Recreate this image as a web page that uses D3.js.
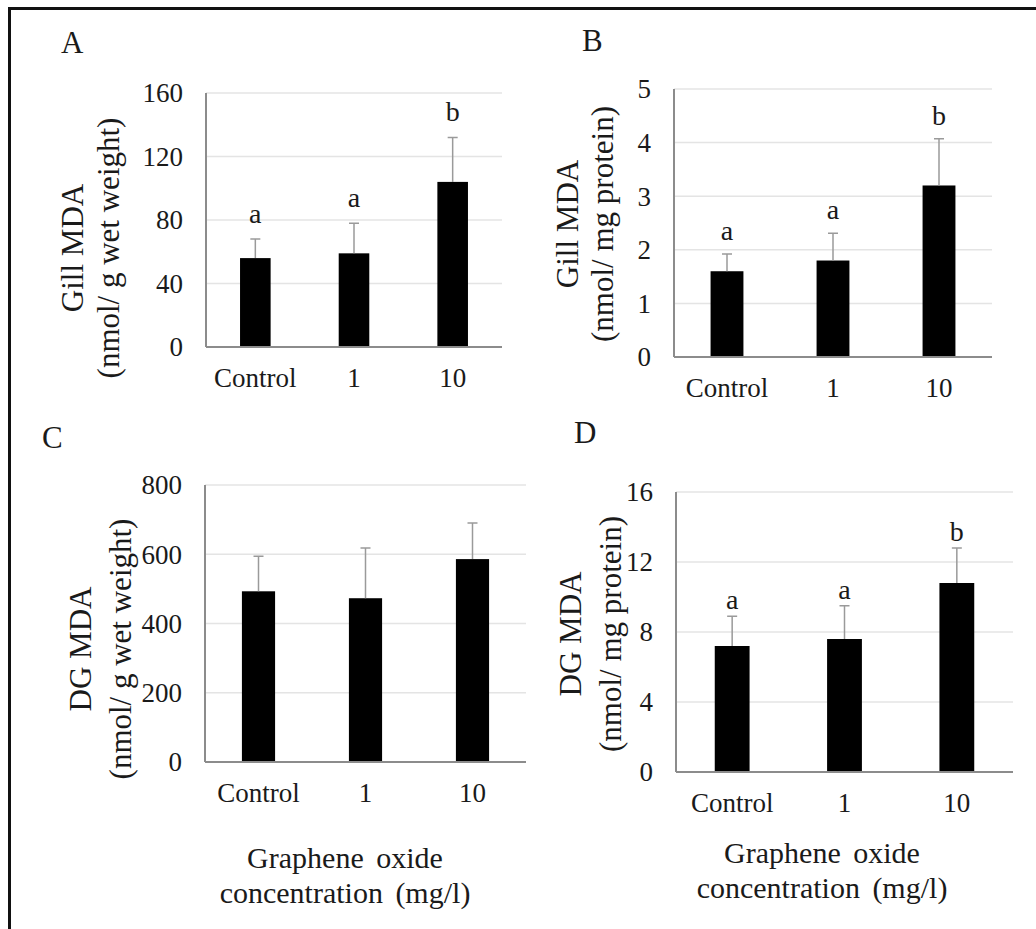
<!DOCTYPE html>
<html>
<head>
<meta charset="utf-8">
<script src="https://cdn.jsdelivr.net/npm/d3@7"></script>
<style>
  body { margin: 0; background: #fff; }
</style>
</head>
<body>
<div id="container"></div>
<script>
/* DATA */
const categories = ["Control", "1", "10"];

// A - gill MDA per g wet weight
const gillWetMean = [56, 59, 104];
const gillWetErr = [12, 19, 28];
const gillWetLetters = ["a", "a", "b"];
const gillWetTicks = [0, 40, 80, 120, 160];

// B - gill MDA per mg protein
const gillProtMean = [1.6, 1.8, 3.2];
const gillProtErr = [0.32, 0.51, 0.87];
const gillProtLetters = ["a", "a", "b"];
const gillProtTicks = [0, 1, 2, 3, 4, 5];

// C - digestive gland MDA per g wet weight
const dgWetMean = [493, 473, 586];
const dgWetErr = [101, 145, 104];
const dgWetLetters = ["", "", ""];
const dgWetTicks = [0, 200, 400, 600, 800];

// D - digestive gland MDA per mg protein
const dgProtMean = [7.2, 7.6, 10.8];
const dgProtErr = [1.7, 1.9, 2.0];
const dgProtLetters = ["a", "a", "b"];
const dgProtTicks = [0, 4, 8, 12, 16];

const xTitle = ["Graphene oxide", "concentration (mg/l)"];

/* LAYOUT (per panel) */
const panels = [
  {label: "A", mean: gillWetMean, err: gillWetErr, letters: gillWetLetters, ticks: gillWetTicks,
   title: ["Gill MDA", "(nmol/ g wet weight)"],
   x0: 206, x1: 502, y0: 93, y1: 347, labelPos: [61, 53], titleX: [72, 108], titleY: 248, letterGap: 16},
  {label: "B", mean: gillProtMean, err: gillProtErr, letters: gillProtLetters, ticks: gillProtTicks,
   title: ["Gill MDA", "(nmol/ mg protein)"],
   x0: 674, x1: 992, y0: 89, y1: 357, labelPos: [582, 51], titleX: [567, 602], titleY: 224, letterGap: 14},
  {label: "C", mean: dgWetMean, err: dgWetErr, letters: dgWetLetters, ticks: dgWetTicks,
   title: ["DG MDA", "(nmol/ g wet weight)"],
   x0: 205, x1: 526, y0: 485, y1: 762, labelPos: [42, 448], titleX: [80, 120], titleY: 649, letterGap: 14,
   xTitlePos: [345, 868]},
  {label: "D", mean: dgProtMean, err: dgProtErr, letters: dgProtLetters, ticks: dgProtTicks,
   title: ["DG MDA", "(nmol/ mg protein)"],
   x0: 676, x1: 1013, y0: 492, y1: 772, labelPos: [574, 443], titleX: [570, 610], titleY: 634, letterGap: 7,
   xTitlePos: [822, 863]}
];

const width = 1036, height = 929;
const serif = "'Liberation Serif', 'Times New Roman', Times, 'DejaVu Serif', serif";

const svg = d3.select("#container")
  .append("svg")
  .attr("width", width)
  .attr("height", height)
  .attr("font-family", serif)
  .style("font-family", serif);

// frame: top and left lines only
svg.append("line").attr("x1", 8).attr("x2", width).attr("y1", 8.5).attr("y2", 8.5)
  .attr("stroke", "#111").attr("stroke-width", 3);
svg.append("line").attr("x1", 9.5).attr("x2", 9.5).attr("y1", 7).attr("y2", height)
  .attr("stroke", "#111").attr("stroke-width", 3);

panels.forEach(p => {
  const g = svg.append("g").attr("fill", "#1a1a1a");

  const x = d3.scaleBand()
    .domain(categories)
    .range([p.x0, p.x1])
    .paddingInner(0.69)
    .paddingOuter(0.345);

  const y = d3.scaleLinear()
    .domain([0, d3.max(p.ticks)])
    .range([p.y1, p.y0]);

  // gridlines
  g.selectAll(".grid")
    .data(p.ticks.filter(t => t > 0))
    .join("line")
    .attr("x1", p.x0).attr("x2", p.x1)
    .attr("y1", d => y(d)).attr("y2", d => y(d))
    .attr("stroke", "#e4e4e4").attr("stroke-width", 1.5);

  // y tick labels
  g.selectAll(".ytick")
    .data(p.ticks)
    .join("text")
    .attr("x", p.x0 - 23)
    .attr("y", d => y(d))
    .attr("dy", "0.35em")
    .attr("text-anchor", "end")
    .attr("font-size", 27)
    .text(d => d);

  // bars
  const rows = categories.map((c, i) => ({c, m: p.mean[i], e: p.err[i], l: p.letters[i]}));

  g.selectAll(".bar")
    .data(rows)
    .join("rect")
    .attr("x", d => x(d.c))
    .attr("width", x.bandwidth())
    .attr("y", d => y(d.m))
    .attr("height", d => y(0) - y(d.m))
    .attr("fill", "#000");

  // error bars (upper only)
  g.selectAll(".err")
    .data(rows)
    .join("path")
    .attr("d", d => {
      const cx = x(d.c) + x.bandwidth() / 2;
      return `M${cx},${y(d.m)}V${y(d.m + d.e)}M${cx - 5},${y(d.m + d.e)}H${cx + 5}`;
    })
    .attr("fill", "none")
    .attr("stroke", "#9a9a9a")
    .attr("stroke-width", 1.5);

  // significance letters
  g.selectAll(".letter")
    .data(rows)
    .join("text")
    .attr("x", d => x(d.c) + x.bandwidth() / 2)
    .attr("y", d => y(d.m + d.e) - p.letterGap)
    .attr("text-anchor", "middle")
    .attr("font-size", 28)
    .text(d => d.l);

  // axis lines
  g.append("line").attr("x1", p.x0).attr("x2", p.x0).attr("y1", p.y0).attr("y2", p.y1)
    .attr("stroke", "#8c8c8c").attr("stroke-width", 2);
  g.append("line").attr("x1", p.x0).attr("x2", p.x1).attr("y1", p.y1).attr("y2", p.y1)
    .attr("stroke", "#8c8c8c").attr("stroke-width", 2);

  // x tick labels
  g.selectAll(".xtick")
    .data(categories)
    .join("text")
    .attr("x", d => x(d) + x.bandwidth() / 2)
    .attr("y", p.y1 + 40)
    .attr("text-anchor", "middle")
    .attr("font-size", 27)
    .text(d => d);

  // y title (two lines)
  p.title.forEach((t, i) => {
    g.append("text")
      .attr("transform", `translate(${p.titleX[i]},${p.titleY}) rotate(-90)`)
      .attr("text-anchor", "middle")
      .attr("dominant-baseline", "central")
      .attr("font-size", 31)
      .text(t);
  });

  // panel label
  g.append("text")
    .attr("x", p.labelPos[0])
    .attr("y", p.labelPos[1])
    .attr("font-size", 31)
    .text(p.label);

  // x title
  if (p.xTitlePos) {
    xTitle.forEach((t, i) => {
      g.append("text")
        .attr("x", p.xTitlePos[0])
        .attr("y", p.xTitlePos[1] + i * 35)
        .attr("text-anchor", "middle")
        .attr("font-size", 30)
        .attr("word-spacing", 5)
        .text(t);
    });
  }
});
</script>
</body>
</html>
